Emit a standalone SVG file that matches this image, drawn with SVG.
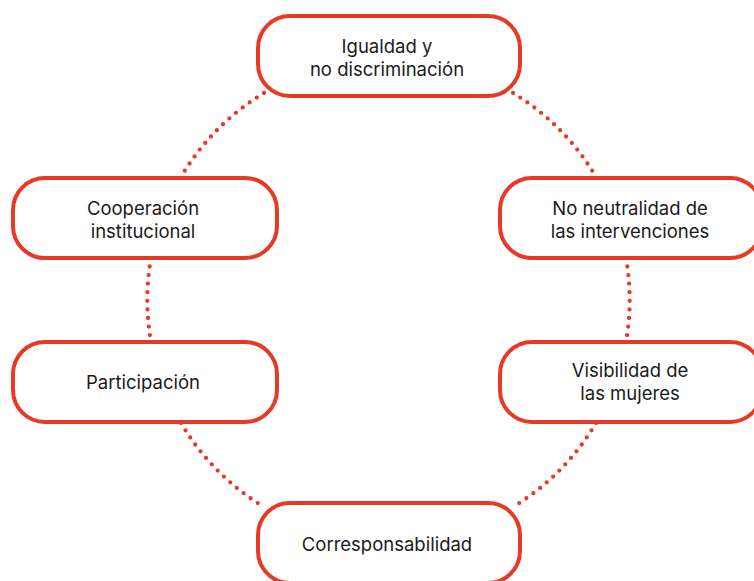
<svg xmlns="http://www.w3.org/2000/svg" width="754" height="581" viewBox="0 0 754 581">
<style>
.bg{fill:#ffffff}
.conn{fill:none;stroke:#E63A27;stroke-width:4.3;stroke-linecap:round;stroke-dasharray:0 8.6}
.box{fill:#ffffff;stroke:#E63A27;stroke-width:4}
.t{font-family:Inter,"Noto Sans","Liberation Sans",sans-serif;font-size:18.5px;fill:#1a1a1a;text-anchor:middle}
</style>
<rect class="bg" x="0" y="0" width="754" height="581"/>
<g id="connectors">
<path class="conn" d="M264 93 A241.5 241.5 0 0 0 181 177"/>
<path class="conn" d="M151 258 A241.5 241.5 0 0 0 151 342"/>
<path class="conn" d="M181 423 A241.5 241.5 0 0 0 264 507"/>
<path class="conn" d="M513 93 A241.5 241.5 0 0 1 596 177"/>
<path class="conn" d="M626 258 A241.5 241.5 0 0 1 626 342"/>
<path class="conn" d="M596 423 A241.5 241.5 0 0 1 513 507"/>
</g>
<g id="n-igualdad">
<rect class="box" x="258" y="16" width="262" height="80" rx="32"/>
<text class="t" x="387" y="53">Igualdad y</text>
<text class="t" x="387" y="76">no discriminación</text>
</g>
<g id="n-cooperacion">
<rect class="box" x="13" y="178" width="264" height="80" rx="32"/>
<text class="t" x="143" y="215">Cooperación</text>
<text class="t" x="143" y="238">institucional</text>
</g>
<g id="n-neutralidad">
<rect class="box" x="500" y="178" width="262" height="80" rx="32"/>
<text class="t" x="630" y="215">No neutralidad de</text>
<text class="t" x="630" y="238">las intervenciones</text>
</g>
<g id="n-participacion">
<rect class="box" x="13" y="342" width="264" height="80" rx="32"/>
<text class="t" x="143" y="389">Participación</text>
</g>
<g id="n-visibilidad">
<rect class="box" x="500" y="342" width="262" height="80" rx="32"/>
<text class="t" x="630" y="377">Visibilidad de</text>
<text class="t" x="630" y="400">las mujeres</text>
</g>
<g id="n-corresponsabilidad">
<rect class="box" x="258" y="503" width="262" height="80" rx="32"/>
<text class="t" x="387" y="551">Corresponsabilidad</text>
</g>
</svg>
